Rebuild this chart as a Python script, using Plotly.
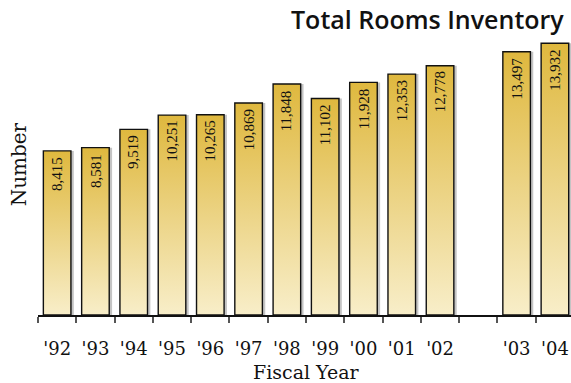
import plotly.graph_objects as go

# ---- data ----
years = ["'92", "'93", "'94", "'95", "'96", "'97", "'98", "'99", "'00", "'01", "'02", "'03", "'04"]
rooms = [8415, 8581, 9519, 10251, 10265, 10869, 11848, 11102, 11928, 12353, 12778, 13497, 13932]
labels = [f"{v:,}" for v in rooms]
gap_after = "'02"   # an empty slot follows this year

title_text = "Total Rooms Inventory"
x_title = "Fiscal Year"
y_title = "Number"

# ---- style ----
GOLD_TOP = "#dfb83e"
GOLD_BOT = "#f8eec9"
BAR_HALF = 0.36
SHADOW_DX = 0.075
SERIF = "DejaVu Serif"

# slot positions (one blank slot after gap_after)
pos = []
slot = 0
for y in years:
    pos.append(slot)
    slot += 2 if y == gap_after else 1
n_slots = slot

fig = go.Figure()

for p, v in zip(pos, rooms):
    # shadow
    fig.add_trace(go.Scatter(
        x=[p - BAR_HALF + SHADOW_DX, p + BAR_HALF + SHADOW_DX, p + BAR_HALF + SHADOW_DX, p - BAR_HALF + SHADOW_DX, p - BAR_HALF + SHADOW_DX],
        y=[0, 0, v, v, 0], mode="lines", fill="toself",
        fillcolor="#c4c4c4", line=dict(width=0, color="#c4c4c4"),
        hoverinfo="skip", showlegend=False))
    # bar with vertical gradient
    fig.add_trace(go.Scatter(
        x=[p - BAR_HALF, p + BAR_HALF, p + BAR_HALF, p - BAR_HALF, p - BAR_HALF],
        y=[0, 0, v, v, 0], mode="lines", fill="toself",
        fillgradient=dict(type="vertical", colorscale=[[0, GOLD_BOT], [1, GOLD_TOP]], start=0, stop=v),
        line=dict(width=1.4, color="#111111"),
        hoverinfo="skip", showlegend=False))

annotations = []
for p, v, t in zip(pos, rooms, labels):
    annotations.append(dict(
        x=p, y=v, xref="x", yref="y", text=t, textangle=-90,
        showarrow=False, yanchor="top", xanchor="center", yshift=-4,
        font=dict(family="Liberation Serif", size=15, color="#111111")))

annotations.append(dict(
    x=0.9906, y=1.022, xref="paper", yref="paper", text=title_text,
    showarrow=False, xanchor="right", yanchor="middle",
    font=dict(family="Open Sans", size=25, weight=600, color="#111111")))
annotations.append(dict(
    x=0.503, y=-0.197, xref="paper", yref="paper", text=x_title,
    showarrow=False, xanchor="center", yanchor="middle",
    font=dict(family=SERIF, size=19, color="#111111")))
annotations.append(dict(
    x=-0.034, y=0.519, xref="paper", yref="paper", text=y_title, textangle=-90,
    showarrow=False, xanchor="center", yanchor="middle",
    font=dict(family=SERIF, size=20, color="#111111")))

fig.update_layout(
    width=571, height=383,
    margin=dict(l=38, r=0, t=25, b=68),
    paper_bgcolor="white", plot_bgcolor="white",
    showlegend=False,
    annotations=annotations,
    xaxis=dict(
        range=[-0.5, 13.42], showgrid=False, zeroline=False,
        showline=True, linecolor="#111111", linewidth=1.5,
        tickmode="array", tickvals=pos, ticktext=years,
        ticks="outside", ticklen=17, tickcolor="rgba(0,0,0,0)",
        tickfont=dict(family=SERIF, size=18, color="#111111"),
        minor=dict(tickmode="array", tickvals=[i - 0.5 for i in range(n_slots + 1)],
                   ticks="outside", ticklen=6, tickwidth=1.5, tickcolor="#555555", showgrid=False),
        fixedrange=True,
    ),
    yaxis=dict(range=[0, 14870], visible=False, fixedrange=True),
)

fig.write_html("out.html", config={"displayModeBar": False},
               post_script="document.body.style.margin='0';document.body.style.overflow='hidden';")
